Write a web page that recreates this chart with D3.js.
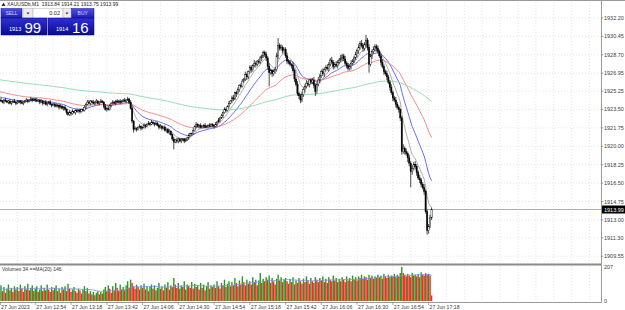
<!DOCTYPE html>
<html>
<head>
<meta charset="utf-8">
<title>XAUUSDb,M1</title>
<script src="https://cdn.jsdelivr.net/npm/d3@7"></script>
<style>
  body { margin: 0; background: #fff; }
  svg { display: block; font-family: 'Liberation Sans', Arial, sans-serif; }
</style>
</head>
<body>
<svg id="chart" width="625" height="310"></svg>
<script>
//#region data (one bar per minute, 12:30 to 17:20, rows of 12 bars)
const firstOpen = 1924.3;
const closes = [
  1924.4, 1924.3, 1924.2, 1924.4, 1924.3, 1924.2, 1924.3, 1924.1, 1924.2, 1924.3, 1924.2, 1924.1,
  1924.2, 1924.3, 1924.2, 1924.1, 1924.2, 1924.3, 1924.4, 1924.3, 1924.4, 1924.5, 1924.4, 1924.5,
  1924.4, 1924.3, 1924.4, 1924.2, 1924.3, 1924.1, 1924.2, 1924.0, 1924.1, 1924.2, 1924.0, 1923.9,
  1924.0, 1923.9, 1923.8, 1923.9, 1923.7, 1923.8, 1923.6, 1923.7, 1923.5, 1923.2, 1923.0, 1923.2,
  1923.1, 1923.3, 1923.2, 1923.4, 1923.3, 1923.4, 1923.3, 1923.5, 1923.4, 1923.7, 1924.0, 1924.2,
  1924.1, 1924.3, 1924.2, 1924.1, 1924.2, 1924.3, 1924.1, 1924.2, 1924.3, 1924.2, 1923.8, 1923.5,
  1923.6, 1923.5, 1923.9, 1924.1, 1924.2, 1924.1, 1924.3, 1924.2, 1924.3, 1924.2, 1924.3, 1924.4,
  1924.3, 1924.4, 1924.5, 1924.2, 1923.6, 1922.4, 1921.6, 1921.7, 1921.6, 1921.8, 1921.9, 1921.7,
  1921.8, 1922.0, 1921.9, 1922.1, 1922.2, 1922.1, 1922.3, 1922.2, 1922.1, 1922.2, 1922.0, 1921.8,
  1921.9, 1921.7, 1921.8, 1921.5, 1921.6, 1921.3, 1921.4, 1921.1, 1920.7, 1920.4, 1920.6, 1920.5,
  1920.7, 1920.5, 1920.6, 1920.7, 1920.5, 1920.6, 1920.8, 1921.0, 1921.2, 1921.2, 1921.5, 1921.9,
  1922.1, 1921.9, 1922.0, 1921.8, 1921.9, 1922.0, 1921.8, 1921.9, 1922.0, 1921.9, 1922.1, 1922.0,
  1921.9, 1922.1, 1922.3, 1922.5, 1922.7, 1922.9, 1923.2, 1923.5, 1923.4, 1923.8, 1924.1, 1924.3,
  1924.6, 1924.5, 1925.1, 1925.0, 1925.4, 1925.8, 1925.7, 1926.2, 1926.4, 1926.8, 1926.6, 1927.1,
  1927.5, 1927.3, 1927.7, 1927.9, 1927.8, 1928.1, 1928.0, 1928.4, 1928.6, 1928.9, 1928.7, 1928.4,
  1927.6, 1927.0, 1927.2, 1926.9, 1927.1, 1927.3, 1928.6, 1929.6, 1929.3, 1929.4, 1929.1, 1929.2,
  1928.6, 1928.1, 1928.0, 1927.8, 1927.7, 1927.2, 1926.4, 1925.9, 1925.0, 1924.8, 1924.4, 1924.9,
  1925.4, 1925.7, 1926.0, 1925.9, 1926.3, 1926.1, 1926.3, 1925.8, 1925.2, 1925.9, 1926.3, 1926.7,
  1927.1, 1926.9, 1927.3, 1927.5, 1927.4, 1927.8, 1928.2, 1928.0, 1927.6, 1927.8, 1927.7, 1928.0,
  1928.2, 1928.4, 1928.6, 1928.3, 1927.9, 1927.7, 1927.4, 1927.6, 1927.9, 1928.1, 1928.4, 1928.7,
  1929.1, 1929.4, 1929.8, 1929.6, 1929.3, 1929.7, 1930.1, 1929.4, 1927.8, 1928.6, 1929.0, 1929.2,
  1929.5, 1929.3, 1929.0, 1928.6, 1928.0, 1927.6, 1927.1, 1926.9, 1926.6, 1926.1, 1925.6, 1925.1,
  1924.6, 1924.4, 1924.0, 1923.7, 1923.5, 1922.7, 1919.5, 1919.8, 1919.5, 1919.3, 1918.9, 1918.4,
  1917.6, 1917.9, 1918.3, 1918.1, 1917.5, 1917.0, 1916.8, 1916.4, 1916.1, 1915.7, 1913.8, 1912.0,
  1912.4, 1913.2, 1913.99
];
//wick above / below the body, in tenths of a dollar
const wickUp = [
  1,2,1,1,2,1,1,2,1,1,2,1, 2,1,1,2,1,1,2,1,1,2,1,1, 1,2,1,1,2,1,1,2,1,1,2,1,
  1,1,2,1,1,2,1,1,2,1,1,2, 1,2,1,1,2,1,2,1,1,2,1,2, 2,1,1,2,1,2,1,1,2,1,1,2,
  1,2,1,1,2,1,1,2,1,2,1,1, 2,1,2,1,2,2,1,2,1,1,2,1, 1,2,1,1,2,1,2,1,1,2,1,1,
  2,1,1,2,1,1,2,1,1,2,1,2, 1,1,2,1,1,2,1,2,1,1,2,1, 2,1,1,2,1,1,2,1,1,2,1,1,
  1,2,1,2,1,2,1,2,2,1,2,1, 2,3,1,2,2,1,2,2,1,3,2,1, 2,2,1,3,2,1,2,2,1,2,2,3,
  2,3,2,1,2,2,3,7,2,3,2,2, 2,3,2,2,1,3,2,2,3,2,2,3, 2,2,3,2,1,2,2,3,2,2,3,2,
  2,3,2,2,3,2,2,3,2,2,3,2, 2,3,2,2,3,2,2,2,3,2,2,3, 2,3,2,3,2,2,5,2,3,2,2,3,
  2,2,3,2,2,3,2,2,3,2,2,3, 2,2,3,2,2,1,2,4,2,3,2,3, 2,3,2,3,2,2,3,2,2,3,2,2,
  2,3,2
];
const wickDn = [
  2,1,1,2,1,1,2,1,2,1,1,2, 1,1,2,1,2,1,1,2,1,1,2,1, 2,1,1,2,1,2,1,1,2,1,1,2,
  1,2,1,1,2,1,1,2,1,2,1,1, 2,1,1,2,1,1,2,1,1,1,2,1, 1,2,1,1,2,1,1,2,1,1,2,1,
  2,1,1,2,1,1,2,1,1,2,1,1, 1,2,1,2,1,2,3,1,2,1,1,2, 1,1,2,1,1,2,1,1,2,1,1,2,
  1,2,1,1,2,1,2,1,2,7,1,2, 2,1,2,1,2,1,1,2,1,2,1,1, 2,1,2,1,1,2,1,1,2,1,1,2,
  2,1,2,1,2,1,2,1,2,1,2,1, 2,2,1,3,1,2,2,1,2,2,3,2, 2,3,2,2,3,2,2,2,3,2,2,3,
  3,13,2,3,2,2,2,3,2,2,3,2, 2,3,2,2,3,2,3,2,2,3,3,2, 2,3,2,2,3,2,2,3,4,2,2,3,
  2,2,3,2,2,3,2,2,3,2,2,3, 2,2,3,2,2,3,2,2,3,2,2,2, 2,3,2,2,3,2,2,3,8,2,3,2,
  2,3,2,2,3,2,3,2,3,2,3,2, 3,2,3,2,3,3,3,2,3,2,4,3, 15,3,2,3,3,2,3,3,2,3,2,4,
  3,2,2
];
const volumes = [
   70,  95,  60,  85,  50,  75, 100,  65,  80,  55,  90,  70,
   85,  60, 100,  75,  55,  90,  70, 105,  65,  80,  95,  60,
   75,  90,  55,  70,  95,  60,  80,  65, 100,  70,  55,  85,
   65,  80,  95,  60,  75,  50,  85,  70,  90,  60, 105,  75,
   55,  70,  85,  60,  50,  75,  65,  45,  70,  90,  60,  80,
   45,  60,  40,  55,  35,  50,  60,  40,  55,  45,  70,  85,
   60,  95,  75,  50,  90,  65, 110,  80,  60, 100,  70,  85,
   65,  95, 120,  80, 130, 110,  90,  75, 100,  85,  70,  95,
   80, 105,  70,  90,  60,  85, 100,  75,  95,  65,  80, 110,
   75,  90,  65, 100,  80, 115,  70,  95,  85, 140, 100,  80,
  110,  75,  95,  85, 120,  70, 100,  90,  80, 115,  75, 105,
   85,  95,  70, 110,  80, 100,  65,  90, 115,  75,  95,  85,
  100,  80, 120,  90,  75, 110,  95, 130,  85, 105, 120,  90,
  115,  95, 140, 110,  90, 125, 100, 150, 115,  95, 130, 105,
  120, 100, 145, 115, 130,  95, 125, 170, 110, 135, 120, 145,
  130, 155, 110, 140, 120, 100, 135, 160, 125, 145, 115, 130,
  140, 120, 105, 135, 115, 145, 100, 125, 110, 140, 120, 105,
  135, 115, 150, 125, 105, 140, 120, 110, 145, 130, 115, 140,
  125, 150, 115, 135, 110, 145, 130, 120, 155, 125, 140, 115,
  135, 120, 145, 130, 115, 150, 125, 140, 120, 155, 130, 145,
  125, 150, 140, 160, 135, 150, 145, 130, 160, 140, 155, 135,
  150, 140, 160, 145, 155, 135, 165, 150, 140, 160, 145, 155,
  150, 165, 145, 160, 150, 170, 207, 170, 160, 150, 165, 155,
  145, 170, 155, 160, 150, 165, 145, 175, 160, 155, 170, 160,
  165, 155,  34
];
const priceTicks = [1932.20, 1930.45, 1928.70, 1926.95, 1925.25, 1923.50, 1921.75,
                    1920.00, 1918.25, 1916.50, 1914.75, 1913.00, 1911.30, 1909.55];
const timeLabels = ['27 Jun 2023', '27 Jun 12:54', '27 Jun 13:18', '27 Jun 13:42', '27 Jun 14:06',
                    '27 Jun 14:30', '27 Jun 14:54', '27 Jun 15:18', '27 Jun 15:42', '27 Jun 16:06',
                    '27 Jun 16:30', '27 Jun 16:54', '27 Jun 17:18'];
const labelEvery = 24;   //bars between time labels
const gridEvery = 12;    //bars between vertical grid lines
//exponential MAs: gray, blue, red, green, with the value each had at the first bar
const maPeriods = [8, 20, 50, 200];
const maSeeds = [1924.4, 1924.7, 1925.2, 1926.33];
const maColors = ['#8c8c8c', '#5a5af0', '#f27c7c', '#86d9a6'];
const volMaPeriod = 20;
const lastPrice = 1913.99;
const title = 'XAUUSDb,M1  1913.84 1914.21 1913.75 1913.99';
const volTitle = 'Volumes 34  ==MA(20) 146';
const bidQuote = ['1913', '99'];
const askQuote = ['1914', '16'];
const lotSize = '0.02';
//#endregion

const svg = d3.select('#chart');
const W = 625;
const plotRight = 601;
const mainTop = 2, mainBottom = 264;
const volTop = 265, volBottom = 302;

const x = d3.scaleLinear().domain([0, 288]).range([-0.5, 428.6]);
const y = d3.scaleLinear().domain([1908.81, 1933.91]).range([mainBottom, 0]);
const yv = d3.scaleLinear().domain([0, 207]).range([301, 267]);

//build bars
let bars = closes.map(function(c, i) {
  let o = i === 0 ? firstOpen : closes[i - 1];
  return {
    i: i, o: o, c: c,
    h: Math.max(o, c) + wickUp[i] / 10,
    l: Math.min(o, c) - wickDn[i] / 10,
    v: volumes[i]
  };
});

//exponential moving averages
function ema(period, seed) {
  let k = 2 / (period + 1);
  let out = [];
  let prev = seed;
  closes.forEach(function(c, i) {
    prev = i === 0 ? seed : prev + k * (c - prev);
    out.push(prev);
  });
  return out;
}

//volume MA (window shrinks at the start)
let volMa = volumes.map(function(v, i) {
  return d3.mean(volumes.slice(Math.max(0, i - volMaPeriod + 1), i + 1));
});

svg.append('defs').html(
  '<clipPath id="mainclip"><rect x="0" y="' + mainTop + '" width="' + plotRight + '" height="' + (mainBottom - mainTop) + '"/></clipPath>' +
  '<linearGradient id="btn" x1="0" y1="0" x2="0" y2="1"><stop offset="0" stop-color="#5050e8"/><stop offset="1" stop-color="#1c1cb0"/></linearGradient>' +
  '<linearGradient id="quote" x1="0" y1="0" x2="0" y2="1"><stop offset="0" stop-color="#2f2fd2"/><stop offset="1" stop-color="#0a0a96"/></linearGradient>'
);

//grid
let grid = svg.append('g').attr('stroke', '#cfd3dc').attr('stroke-width', 0.6).attr('stroke-dasharray', '1,2');
d3.range(0, 404, gridEvery).forEach(function(i) {
  if (x(i) < 1 || x(i) > plotRight - 1) return;
  grid.append('line').attr('x1', x(i)).attr('x2', x(i)).attr('y1', mainTop).attr('y2', mainBottom);
  grid.append('line').attr('x1', x(i)).attr('x2', x(i)).attr('y1', volTop + 1).attr('y2', volBottom);
});
priceTicks.forEach(function(p) {
  grid.append('line').attr('x1', 0).attr('x2', plotRight).attr('y1', y(p)).attr('y2', y(p));
});

//frame
let frame = svg.append('g').attr('stroke', '#9a9a9a').attr('fill', 'none');
frame.append('line').attr('x1', 0).attr('x2', W).attr('y1', 0.5).attr('y2', 0.5);
frame.append('line').attr('x1', plotRight + 0.5).attr('x2', plotRight + 0.5).attr('y1', 0).attr('y2', volBottom);
frame.append('line').attr('x1', 0).attr('x2', plotRight).attr('y1', mainBottom + 0.5).attr('y2', mainBottom + 0.5).attr('stroke-width', 2).attr('stroke', '#8a8a8a');
frame.append('line').attr('x1', 0).attr('x2', plotRight + 1).attr('y1', volBottom + 0.5).attr('y2', volBottom + 0.5);

//current price line (a thin filled strip, drawn before the candles)
let py = Math.floor(y(lastPrice));
svg.append('rect').attr('x', 0).attr('y', py).attr('width', plotRight).attr('height', 1)
  .style('fill', 'rgb(250, 150, 90)').attr('shape-rendering', 'crispEdges');

let main = svg.append('g').attr('clip-path', 'url(#mainclip)');

//moving averages
maPeriods.forEach(function(p, k) {
  let vals = ema(p, maSeeds[k]);
  main.append('path')
    .attr('d', d3.line().x(function(d, i) { return x(i); }).y(function(d) { return y(d); })(vals))
    .attr('fill', 'none').attr('stroke', maColors[k]).attr('stroke-width', k === 0 ? 0.7 : 0.9);
});

//candles
let candles = main.append('g');
bars.forEach(function(b) {
  let cx = x(b.i);
  candles.append('line').attr('x1', cx).attr('x2', cx).attr('y1', y(b.h)).attr('y2', y(b.l))
    .attr('stroke', '#000').attr('stroke-width', 0.7);
  let top = y(Math.max(b.o, b.c));
  let hgt = Math.max(0.8, y(Math.min(b.o, b.c)) - top);
  candles.append('rect').attr('x', cx - 0.65).attr('width', 1.3).attr('y', top).attr('height', hgt)
    .attr('fill', b.c >= b.o ? '#fff' : '#000').attr('stroke', '#000').attr('stroke-width', 0.4);
});

//price axis
let axis = svg.append('g').attr('font-size', 5.5).attr('fill', '#3c3c3c');
priceTicks.forEach(function(p) {
  axis.append('line').attr('x1', plotRight).attr('x2', plotRight + 2.5).attr('y1', y(p)).attr('y2', y(p)).attr('stroke', '#777').attr('stroke-width', 0.6);
  axis.append('text').attr('x', plotRight + 3).attr('y', y(p) + 2).text(p.toFixed(2));
});
svg.append('rect').attr('x', plotRight + 1).attr('y', py - 3.5).attr('width', 23).attr('height', 8).attr('fill', '#000');
svg.append('text').attr('x', plotRight + 3).attr('y', py + 2.5).attr('font-size', 5.5).attr('fill', '#fff').text(lastPrice.toFixed(2));

//volumes
let vol = svg.append('g');
bars.forEach(function(b) {
  let up = b.i === 0 || b.v > volumes[b.i - 1];
  vol.append('rect').attr('x', x(b.i) - 0.7).attr('width', 1.4)
    .attr('y', yv(b.v)).attr('height', yv(0) - yv(b.v))
    .attr('fill', up ? '#239a23' : '#ff2525');
});
vol.append('path')
  .attr('d', d3.line().x(function(d, i) { return x(i); }).y(function(d) { return yv(d); })(volMa))
  .attr('fill', 'none').attr('stroke', '#8a8ae0').attr('stroke-width', 0.8);
vol.append('text').attr('x', 2).attr('y', 271).attr('font-size', 5).attr('fill', '#333').text(volTitle);
axis.append('text').attr('x', plotRight + 3).attr('y', yv(207) + 2).text('207');
axis.append('text').attr('x', plotRight + 3).attr('y', yv(0) + 2).text('0');

//time axis
timeLabels.forEach(function(t, k) {
  let tx = x(k * labelEvery);
  svg.append('line').attr('x1', Math.max(0.5, tx)).attr('x2', Math.max(0.5, tx)).attr('y1', volBottom).attr('y2', volBottom + 3)
    .attr('stroke', '#777').attr('stroke-width', 0.6);
  svg.append('text').attr('x', Math.max(1, tx + 1)).attr('y', 308.5).attr('font-size', 5.2).attr('fill', '#3c3c3c').text(t);
});

//title
svg.append('path').attr('d', 'M1.5,6 L3.5,2.5 L5.5,6 Z').attr('fill', '#333');
svg.append('text').attr('x', 7).attr('y', 6.2).attr('font-size', 5).attr('fill', '#222').attr('xml:space', 'preserve').text(title);

//one click trading panel
let oc = svg.append('g');
oc.append('rect').attr('x', 1).attr('y', 8.5).attr('width', 21).attr('height', 9.5).attr('fill', 'url(#btn)').attr('stroke', '#14148a').attr('stroke-width', 0.5);
oc.append('text').attr('x', 11.5).attr('y', 15).attr('text-anchor', 'middle').attr('font-size', 5).attr('fill', '#d6d6ff').text('SELL');
oc.append('rect').attr('x', 23).attr('y', 8.5).attr('width', 10).attr('height', 9.5).attr('fill', '#ececec').attr('stroke', '#b4b4b4').attr('stroke-width', 0.5);
oc.append('path').attr('d', 'M26.5,12.5 L29.5,12.5 L28,14.5 Z').attr('fill', '#333');
oc.append('rect').attr('x', 33).attr('y', 8.5).attr('width', 30).attr('height', 9.5).attr('fill', '#fff').attr('stroke', '#b4b4b4').attr('stroke-width', 0.5);
oc.append('text').attr('x', 60).attr('y', 15).attr('text-anchor', 'end').attr('font-size', 5.5).attr('fill', '#222').text(lotSize);
oc.append('rect').attr('x', 63).attr('y', 8.5).attr('width', 8).attr('height', 9.5).attr('fill', '#ececec').attr('stroke', '#b4b4b4').attr('stroke-width', 0.5);
oc.append('path').attr('d', 'M65.5,12.5 L68.5,12.5 L67,14.5 Z').attr('fill', '#333');
oc.append('rect').attr('x', 71.5).attr('y', 8.5).attr('width', 22.5).attr('height', 9.5).attr('fill', 'url(#btn)').attr('stroke', '#14148a').attr('stroke-width', 0.5);
oc.append('text').attr('x', 82.75).attr('y', 15).attr('text-anchor', 'middle').attr('font-size', 5).attr('fill', '#d6d6ff').text('BUY');

[[1, bidQuote, 9, 24.5], [48, askQuote, 56, 72]].forEach(function(q) {
  oc.append('rect').attr('x', q[0]).attr('y', 18).attr('width', 46).attr('height', 17).attr('fill', 'url(#quote)').attr('stroke', '#0a0a6e').attr('stroke-width', 0.5);
  oc.append('text').attr('x', q[2]).attr('y', 31).attr('font-size', 5.5).attr('fill', '#fff').text(q[1][0]);
  oc.append('text').attr('x', q[3]).attr('y', 33).attr('font-size', 15).attr('fill', '#fff').text(q[1][1]);
});
</script>
</body>
</html>
